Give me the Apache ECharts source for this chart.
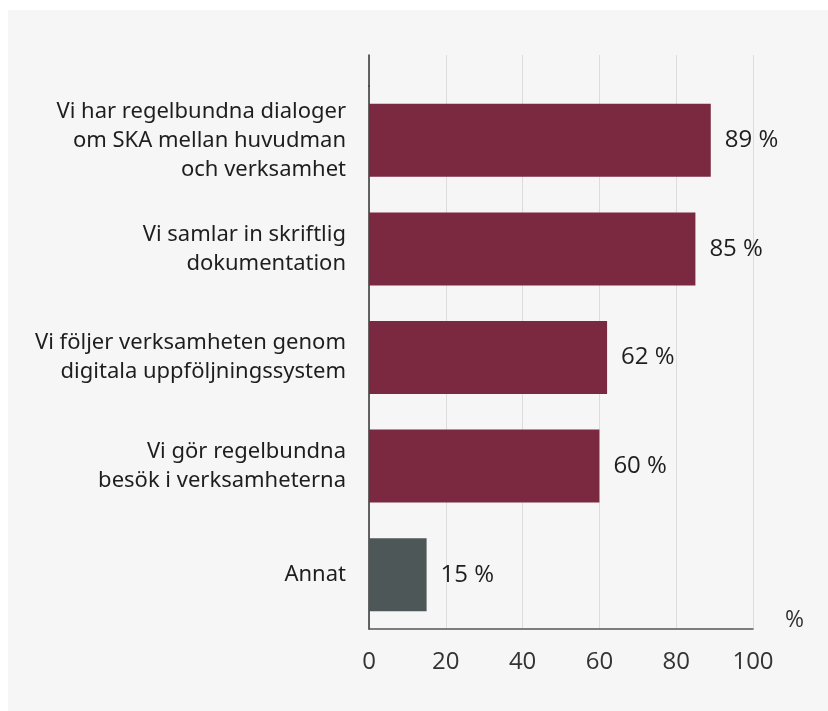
<!DOCTYPE html>
<html>
<head>
<meta charset="utf-8">
<script src="https://cdn.jsdelivr.net/npm/echarts@6/dist/echarts.min.js"></script>
<style>
  html, body { margin: 0; padding: 0; background: #f6f6f6; overflow: hidden; }
  #topEdge { position: absolute; left: 0; top: 0; width: 100%; height: 10px; background: #ffffff; }
  #leftEdge { position: absolute; left: 0; top: 0; width: 8px; height: 100%; min-height: 760px; background: #ffffff; }
  #main { position: absolute; left: 0; top: 0; width: 828px; height: 711px; }
</style>
</head>
<body>
<div id="topEdge"></div>
<div id="leftEdge"></div>
<div id="main"></div>
<script>
  // kategorier och värden (procent)
  var categories = [
    'Vi har regelbundna dialoger\nom SKA mellan huvudman\noch verksamhet',
    'Vi samlar in skriftlig\ndokumentation',
    'Vi följer verksamheten genom\ndigitala uppföljningssystem',
    'Vi gör regelbundna\nbesök i verksamheterna',
    'Annat'
  ];
  var values = [89, 85, 62, 60, 15];
  var barColors = ['#7a2940', '#7a2940', '#7a2940', '#7a2940', '#4e5757'];
  var xTicks = [0, 20, 40, 60, 80, 100];

  var labelFont = "'Noto Sans', sans-serif";
  var numFont = "'Open Sans', 'Noto Sans', sans-serif";

  var chart = echarts.init(document.getElementById('main'));
  var option = {
    animation: false,
    grid: [
      { left: 369, right: 75, top: 86, bottom: 82 },
      { left: 369, right: 75, top: 55, height: 31 }
    ],
    xAxis: [
      {
        gridIndex: 0,
        type: 'value',
        min: xTicks[0],
        max: xTicks[xTicks.length - 1],
        interval: 20,
        name: '%',
        nameLocation: 'end',
        nameGap: 32,
        nameTextStyle: { fontFamily: numFont, fontSize: 23, color: '#333', verticalAlign: 'bottom', padding: [0, 0, -3, 0] },
        axisLine: { show: true, lineStyle: { color: '#555', width: 1.5 } },
        axisTick: { show: false },
        axisLabel: { fontFamily: numFont, fontSize: 24, color: '#333', margin: 21 },
        splitLine: { show: true, lineStyle: { color: '#dcdcdc', width: 1 } }
      },
      {
        gridIndex: 1,
        type: 'value',
        min: 0,
        max: 100,
        interval: 20,
        axisLine: { show: false },
        axisTick: { show: false },
        axisLabel: { show: false },
        splitLine: { show: true, lineStyle: { color: '#dcdcdc', width: 1 } }
      }
    ],
    yAxis: [
      {
        gridIndex: 0,
        type: 'category',
        inverse: true,
        data: categories,
        axisLine: { show: true, lineStyle: { color: '#333', width: 1.5 } },
        axisTick: { show: false },
        axisLabel: {
          fontFamily: labelFont,
          fontSize: 22,
          lineHeight: 29,
          color: '#1e1e1e',
          align: 'right',
          margin: 23
        }
      },
      {
        gridIndex: 1,
        type: 'category',
        data: [''],
        axisLine: { show: true, lineStyle: { color: '#333', width: 1.5 } },
        axisTick: { show: false },
        axisLabel: { show: false }
      }
    ],
    series: [
      {
        type: 'bar',
        xAxisIndex: 0,
        yAxisIndex: 0,
        data: values.map(function (v, i) {
          return { value: v, itemStyle: { color: barColors[i] } };
        }),
        barWidth: 73,
        label: {
          show: true,
          position: 'right',
          distance: 14,
          formatter: '{c} %',
          fontFamily: numFont,
          fontSize: 24,
          color: '#1e1e1e'
        }
      }
    ]
  };
  chart.setOption(option);
</script>
</body>
</html>
